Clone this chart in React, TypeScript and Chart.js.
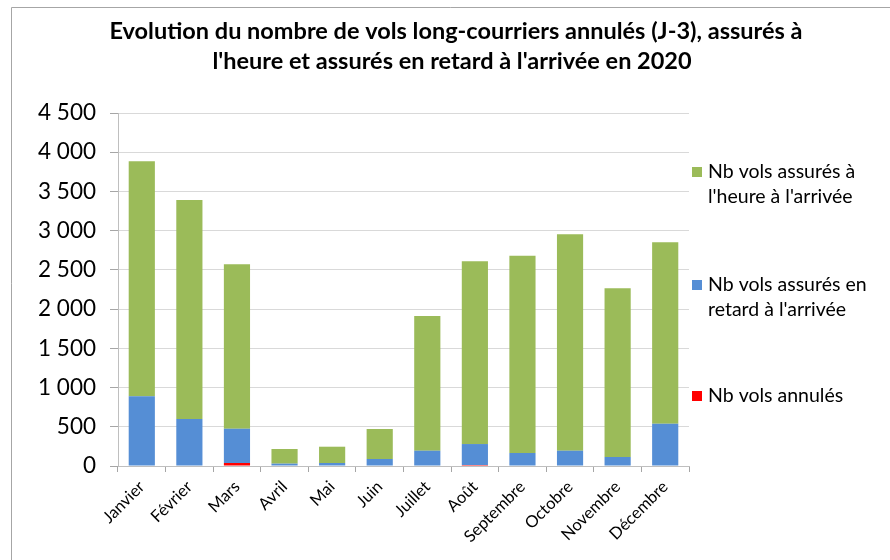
import React, { useEffect, useRef } from "react";
import { Chart, registerables } from "chart.js";

Chart.register(...registerables);

const months = ["Janvier", "Février", "Mars", "Avril", "Mai", "Juin", "Juillet", "Août", "Septembre", "Octobre", "Novembre", "Décembre"];
const annules = [0, 0, 38, 0, 0, 0, 0, 12, 0, 0, 0, 0];
const enRetard = [890, 600, 437, 30, 38, 89, 195, 268, 166, 195, 115, 539];
const aLheure = [2994, 2791, 2096, 187, 208, 383, 1717, 2329, 2515, 2758, 2150, 2312];
const yTicks = [0, 500, 1000, 1500, 2000, 2500, 3000, 3500, 4000, 4500];

const titleLines = [
  "Evolution du nombre de vols long-courriers annulés (J-3), assurés à",
  "l'heure et assurés en retard à l'arrivée en 2020",
];
const legendItems = [
  { color: "#9BBB59", lines: ["Nb vols assurés à", "l'heure à l'arrivée"] },
  { color: "#558ED5", lines: ["Nb vols assurés en", "retard à l'arrivée"] },
  { color: "#FF0000", lines: ["Nb vols annulés"] },
];

const FONT = "Lato, 'Open Sans', sans-serif";

const fmt = (v: number) => {
  const s = String(Math.round(v));
  return s.length > 3 ? s.slice(0, s.length - 3) + "\u00a0" + s.slice(-3) : s;
};

export default function App() {
  const ref = useRef<HTMLCanvasElement | null>(null);
  useEffect(() => {
    if (!ref.current) return;
    const decor = {
      id: "decor",
      afterDraw(chart: any) {
        const ctx = chart.ctx;
        ctx.save();
        ctx.strokeStyle = "#a6a6a6";
        ctx.lineWidth = 1;
        ctx.beginPath();
        ctx.moveTo(11.5, 560);
        ctx.lineTo(11.5, 7.5);
        ctx.lineTo(890, 7.5);
        ctx.stroke();
        ctx.fillStyle = "#000";
        ctx.font = `bold 23.5px ${FONT}`;
        ctx.textAlign = "center";
        ctx.textBaseline = "middle";
        ctx.fillText(titleLines[0], 456, 31);
        ctx.fillText(titleLines[1], 452, 61);
        const ys = [172, 285, 396];
        ctx.font = `19.5px ${FONT}`;
        ctx.textAlign = "left";
        legendItems.forEach((it, i) => {
          ctx.fillStyle = it.color;
          ctx.fillRect(692, ys[i] - 5, 10, 10);
          ctx.fillStyle = "#000";
          it.lines.forEach((ln, j) => ctx.fillText(ln, 708, ys[i] + j * 25));
        });
        ctx.restore();
      },
    };
    const chart = new Chart(ref.current, {
      type: "bar",
      data: {
        labels: months,
        datasets: [
          { label: "Nb vols annulés", data: annules, backgroundColor: "#FF0000" },
          { label: "Nb vols assurés en retard à l'arrivée", data: enRetard, backgroundColor: "#558ED5" },
          { label: "Nb vols assurés à l'heure à l'arrivée", data: aLheure, backgroundColor: "#9BBB59" },
        ],
      },
      options: {
        responsive: false,
        animation: false,
        devicePixelRatio: 1,
        layout: { padding: { left: 11, right: 201, top: 113, bottom: 0 } },
        datasets: { bar: { barPercentage: 0.55, categoryPercentage: 1 } },
        plugins: { legend: { display: false }, title: { display: false }, tooltip: { enabled: false } },
        scales: {
          x: {
            stacked: true,
            grid: { drawOnChartArea: false, offset: true, tickLength: 6, tickColor: "#a6a6a6" },
            border: { color: "#bfbfbf" },
            ticks: { autoSkip: false, maxRotation: 45, minRotation: 45, padding: 5, color: "#000", font: { family: FONT, size: 16.5 } },
            afterFit: (s: any) => { s.height = 94; },
          },
          y: {
            stacked: true,
            min: 0,
            max: 4500,
            afterBuildTicks: (s: any) => { s.ticks = yTicks.map((v) => ({ value: v })); },
            grid: { color: "#d9d9d9", tickLength: 8, tickColor: "#a6a6a6" },
            border: { color: "#bfbfbf" },
            ticks: { padding: 14, color: "#000", font: { family: FONT, size: 22.5 }, callback: (v: any) => fmt(Number(v)) },
            afterFit: (s: any) => { s.width = 107; },
          },
        },
      },
      plugins: [decor],
    });
    return () => chart.destroy();
  }, []);
  return (
    <div style={{ position: "absolute", left: 0, top: 0, width: 890, height: 560, background: "#fff" }}>
      <canvas ref={ref} width={890} height={560} style={{ display: "block", width: 890, height: 560 }} />
    </div>
  );
}
